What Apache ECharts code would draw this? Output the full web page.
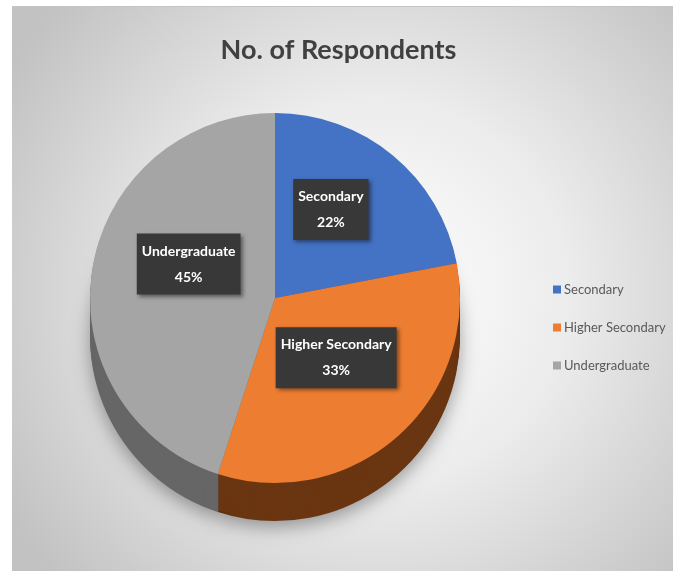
<!DOCTYPE html>
<html>
<head>
<meta charset="utf-8">
<title>No. of Respondents</title>
<script src="https://cdn.jsdelivr.net/npm/echarts@6/dist/echarts.min.js"></script>
<style>
  html, body { margin: 0; padding: 0; background: #ffffff; }
  #chart { width: 677px; height: 571px; }
</style>
</head>
<body>
<div id="chart"></div>
<script>
// Survey breakdown by education level (percent of respondents)
const categories = ['Secondary', 'Higher Secondary', 'Undergraduate'];
const shares = [22, 33, 45];

// Face and rim colours of each slice
const faceColors = ['#4472C4', '#ED7D31', '#A5A5A5'];
const rimColors = ['#2d4f8c', '#6a3511', '#666666'];

const FONT = "Lato, 'Open Sans', sans-serif";
const CX = 275, CY = 298, R = 185, DEPTH = 38;

const chart = echarts.init(document.getElementById('chart'), null, { renderer: 'canvas' });

const baseData = categories.map((name, i) => ({ name, value: shares[i] }));

// Rim of the disc: a stack of darker copies shifted downward
const rimSeries = [];
for (let d = DEPTH; d >= 2; d -= 2) {
  rimSeries.push({
    type: 'pie',
    silent: true,
    startAngle: 90,
    clockwise: true,
    radius: R,
    center: [CX, CY + d],
    z: 2,
    label: { show: false },
    labelLine: { show: false },
    emphasis: { disabled: true },
    itemStyle: d === DEPTH ? {
      shadowColor: 'rgba(0,0,0,0.35)',
      shadowBlur: 18,
      shadowOffsetY: 6
    } : {},
    data: baseData.map((it, i) => ({
      name: it.name,
      value: it.value,
      itemStyle: { color: rimColors[i] }
    }))
  });
}

const labelOffsets = [[-5, -15], [-2, -12], [8, -19]];

const option = {
  animation: false,
  graphic: [{
    type: 'rect',
    z: -10,
    silent: true,
    shape: { x: 12, y: 6, width: 661, height: 571 },
    style: {
      fill: new echarts.graphic.RadialGradient(0.55, 0.5, 0.75, [
        { offset: 0, color: '#ffffff' },
        { offset: 0.45, color: '#ececec' },
        { offset: 1, color: '#c2c2c2' }
      ])
    }
  }, {
    type: 'line',
    z: -9,
    silent: true,
    shape: { x1: 12, y1: 6.5, x2: 673, y2: 6.5 },
    style: { stroke: '#c4c4c4', lineWidth: 1 }
  }],
  title: {
    text: 'No. of Respondents',
    left: 'center',
    top: 32,
    textStyle: {
      fontFamily: FONT,
      fontSize: 27,
      fontWeight: 'bold',
      color: '#404040'
    }
  },
  legend: {
    orient: 'vertical',
    left: 548,
    top: 278,
    icon: 'rect',
    itemWidth: 8,
    itemHeight: 8,
    itemGap: 25,
    itemStyle: { borderWidth: 0 },
    textStyle: { fontFamily: FONT, fontSize: 13, color: '#595959', padding: [0, 0, 0, -2] },
    data: categories.map((name, i) => ({ name, itemStyle: { color: faceColors[i] } }))
  },
  series: rimSeries.concat([{
    type: 'pie',
    name: 'No. of Respondents',
    startAngle: 90,
    clockwise: true,
    radius: R,
    center: [CX, CY],
    z: 5,
    emphasis: { disabled: true },
    labelLine: { show: false },
    label: {
      show: true,
      position: 'inside',
      formatter: p => p.name + '\n' + p.value + '%',
      fontFamily: FONT,
      fontSize: 14,
      fontWeight: 'bold',
      color: '#ffffff',
      lineHeight: 26,
      backgroundColor: '#383838',
      padding: [5, 5, 4, 5],
      shadowColor: 'rgba(0,0,0,0.45)',
      shadowBlur: 4,
      shadowOffsetX: 2,
      shadowOffsetY: 2
    },
    data: baseData.map((it, i) => ({
      name: it.name,
      value: it.value,
      itemStyle: { color: faceColors[i] },
      label: { offset: labelOffsets[i] }
    }))
  }])
};

chart.setOption(option);
</script>
</body>
</html>
